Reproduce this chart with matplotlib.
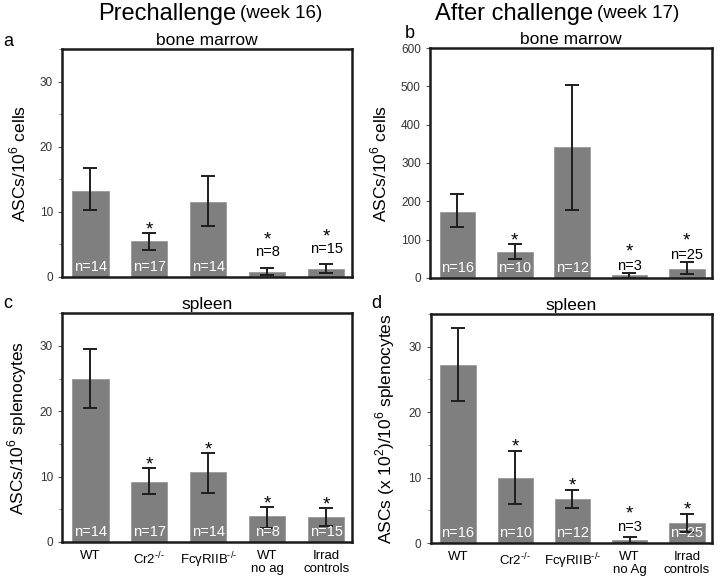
import numpy as np
import matplotlib
matplotlib.use("Agg")
import matplotlib.pyplot as plt
from matplotlib.ticker import MultipleLocator

plt.rcParams['font.family'] = ['Liberation Sans', 'DejaVu Sans']
plt.rcParams['mathtext.fontset'] = 'custom'
plt.rcParams['mathtext.rm'] = 'Liberation Sans'

# groups (bottom row labels)
labels_c = ['WT', 'Cr2$^{\\text{-/-}}$', 'Fc\u03b3RIIB$^{\\text{-/-}}$', 'WT\nno ag', 'Irrad\ncontrols']
labels_d = ['WT', 'Cr2$^{\\text{-/-}}$', 'Fc\u03b3RIIB$^{\\text{-/-}}$', 'WT\nno Ag', 'Irrad\ncontrols']

# panel a: prechallenge bone marrow
mean_a = [13.2, 5.5, 11.5, 0.7, 1.2]
lo_a = [10.2, 4.1, 7.8, 0.2, 0.6]
hi_a = [16.7, 6.7, 15.5, 1.4, 1.9]
n_a = [14, 17, 14, 8, 15]
star_a = [False, True, False, True, True]
inside_a = [True, True, True, False, False]

# panel b: after challenge bone marrow
mean_b = [173, 67, 342, 8, 22]
lo_b = [132, 50, 178, 0, 10]
hi_b = [218, 88, 503, 14, 42]
n_b = [16, 10, 12, 3, 25]
star_b = [False, True, False, True, True]
inside_b = [True, True, True, False, False]

# panel c: prechallenge spleen
mean_c = [25.0, 9.2, 10.7, 3.9, 3.8]
lo_c = [20.5, 7.3, 7.5, 2.2, 2.4]
hi_c = [29.5, 11.3, 13.6, 5.4, 5.2]
n_c = [14, 17, 14, 8, 15]
star_c = [False, True, True, True, True]
inside_c = [True, True, True, True, True]

# panel d: after challenge spleen
mean_d = [27.2, 9.9, 6.7, 0.5, 3.0]
lo_d = [21.7, 6.0, 5.3, 0.0, 1.7]
hi_d = [32.8, 14.0, 8.1, 1.0, 4.4]
n_d = [16, 10, 12, 3, 25]
star_d = [False, True, True, True, True]
inside_d = [True, True, True, False, True]

BAR = '#7f7f7f'
ERR = '#1e1e1e'

fig = plt.figure(figsize=(7.2, 5.79), dpi=100)

def panel(rect, mean, lo, hi, n, star, inside, ylim, major, minor, ylabel,
          xlabels=None, n_gap=11, star_gap=20, ystar_gap=2):
    ax = fig.add_axes(rect)
    x = np.arange(len(mean))
    mean = np.array(mean)
    yerr = [mean - np.array(lo), np.array(hi) - mean]
    ax.bar(x, mean, width=0.62, color=BAR, edgecolor='#9a9a9a', linewidth=0.6,
           zorder=2)
    ax.errorbar(x, mean, yerr=yerr, fmt='none', ecolor=ERR, elinewidth=1.4,
                capsize=5, capthick=1.4, zorder=3)
    for i in range(len(mean)):
        if inside[i]:
            ax.text(i, 0.045, 'n=%d' % n[i], transform=ax.get_xaxis_transform(),
                    ha='center', va='center', color='white', fontsize=10.5,
                    zorder=4)
            if star[i]:
                ax.annotate('*', (i, hi[i]), xytext=(0, ystar_gap),
                            textcoords='offset points', ha='center',
                            va='center', fontsize=13.5, zorder=4)
        else:
            ax.annotate('n=%d' % n[i], (i, hi[i]), xytext=(0, n_gap),
                        textcoords='offset points', ha='center', va='center',
                        fontsize=10.5, zorder=4)
            if star[i]:
                ax.annotate('*', (i, hi[i]), xytext=(0, star_gap),
                            textcoords='offset points', ha='center',
                            va='center', fontsize=13.5, zorder=4)
    ax.set_xlim(-0.48, 4.44)
    ax.set_ylim(*ylim)
    ax.yaxis.set_major_locator(MultipleLocator(major))
    if minor:
        ax.yaxis.set_minor_locator(MultipleLocator(minor))
    for s in ax.spines.values():
        s.set_linewidth(1.8)
        s.set_color('#1a1a1a')
    ax.tick_params(axis='y', direction='out', length=3, width=0.8,
                   labelsize=8.5, labelcolor='#333333', color='#555555')
    ax.tick_params(axis='y', which='minor', direction='out', length=2,
                   width=0.6, color='#777777')
    ax.set_ylabel(ylabel, fontsize=12.5, labelpad=8)
    if xlabels:
        ax.set_xticks(x)
        ax.set_xticklabels(xlabels, fontsize=9.5, linespacing=1.1)
        ax.tick_params(axis='x', length=0, pad=6)
    else:
        ax.set_xticks([])
    return ax

ax_a = panel([0.086, 0.522, 0.403, 0.393], mean_a, lo_a, hi_a, n_a, star_a,
             inside_a, (0, 35), 10, 5, 'ASCs/10$^6$ cells', n_gap=11, star_gap=20)
ax_b = panel([0.597, 0.520, 0.392, 0.397], mean_b, lo_b, hi_b, n_b, star_b,
             inside_b, (0, 600), 100, None, 'ASCs/10$^6$ cells', n_gap=5,
             star_gap=15)
ax_c = panel([0.086, 0.064, 0.403, 0.395], mean_c, lo_c, hi_c, n_c, star_c,
             inside_c, (0, 35), 10, 5, 'ASCs/10$^6$ splenocytes', labels_c)
ax_d = panel([0.598, 0.062, 0.391, 0.396], mean_d, lo_d, hi_d, n_d, star_d,
             inside_d, (0, 35), 10, 5, 'ASCs (x 10$^2$)/10$^6$ splenocytes',
             labels_d, n_gap=7, star_gap=16, ystar_gap=3)

ax_a.set_title('bone marrow', fontsize=12.5, pad=3)
ax_b.set_title('bone marrow', fontsize=12.5, pad=3)
ax_c.set_title('spleen', fontsize=12.5, pad=3)
ax_d.set_title('spleen', fontsize=12.5, pad=3)

# column headings
fig.text(236 / 720, 1 - 14 / 579, 'Prechallenge', ha='right', va='center',
         fontsize=17)
fig.text(240 / 720, 1 - 14 / 579, '(week 16)', ha='left', va='center',
         fontsize=13.5)
fig.text(593 / 720, 1 - 14 / 579, 'After challenge', ha='right', va='center',
         fontsize=17)
fig.text(597 / 720, 1 - 14 / 579, '(week 17)', ha='left', va='center',
         fontsize=13.5)

# panel letters
fig.text(8 / 720, 1 - 42 / 579, 'a', fontsize=13, ha='center', va='center')
fig.text(410 / 720, 1 - 33 / 579, 'b', fontsize=13, ha='center', va='center')
fig.text(8 / 720, 1 - 303 / 579, 'c', fontsize=13, ha='center', va='center')
fig.text(376 / 720, 1 - 303 / 579, 'd', fontsize=13, ha='center', va='center')

fig.savefig('out.png', dpi=100)
